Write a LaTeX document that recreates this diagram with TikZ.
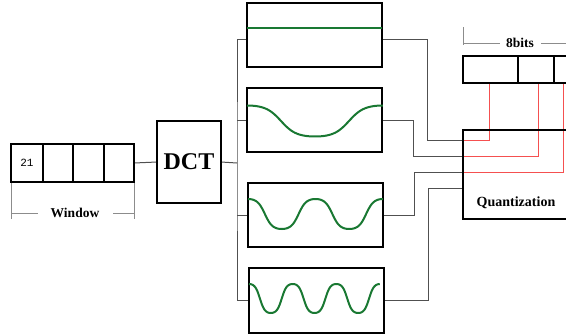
\documentclass[tikz,border=0pt]{standalone}
\usepackage{fontspec}
\setmainfont{Liberation Serif}
\setmonofont{Liberation Mono}
\usetikzlibrary{backgrounds}
\definecolor{wavegreen}{RGB}{25,120,50}
\definecolor{bitred}{RGB}{245,80,80}
\definecolor{conngray}{RGB}{80,80,80}
\definecolor{dimgray}{RGB}{140,140,140}
\tikzset{
  box/.style={draw=black, line width=2pt, inner sep=0pt, outer sep=0pt},
  conn/.style={draw=conngray, line width=1pt},
  redline/.style={draw=bitred, line width=1pt},
  dimline/.style={draw=dimgray, line width=1pt},
  wave/.style={draw=wavegreen, line width=2pt},
  lbl/.style={font=\bfseries\fontsize{13.5}{14}\selectfont, inner sep=1pt}
}
\begin{document}
\begin{tikzpicture}[x=1pt, y=-1pt]
\useasboundingbox (0,0) rectangle (566,335);
% window cells
\node[box, minimum width=32pt, minimum height=38pt] (w1) at (27,163) {\ttfamily\fontsize{11}{12}\selectfont 21};
\node[box, minimum width=30pt, minimum height=38pt] (w2) at (58,163) {};
\node[box, minimum width=31pt, minimum height=38pt] (w3) at (88.5,163) {};
\node[box, minimum width=30pt, minimum height=38pt] (w4) at (119,163) {};
% DCT
\node[box, minimum width=64pt, minimum height=82pt, font=\bfseries\fontsize{24}{26}\selectfont] (dct) at (189,162) {DCT};
% signal boxes
\node[box, minimum width=135pt, minimum height=64pt] (s1) at (314.5,35) {};
\node[box, minimum width=135pt, minimum height=64pt] (s2) at (314.5,120) {};
\node[box, minimum width=135pt, minimum height=64pt] (s3) at (315.5,215) {};
\node[box, minimum width=135pt, minimum height=65pt] (s4) at (316.5,300.5) {};
% waves
\draw[wave] (s1.west |- 0,28) -- (s1.east |- 0,28);
\draw[wave] plot[domain=0:1, samples=100, smooth] ({247+136*\x}, {121-15.5*tanh(1.3*cos(360*\x))/tanh(1.3)});
\draw[wave] plot[domain=0:1, samples=120, smooth] ({248+135*\x}, {214-15*tanh(1.3*cos(720*\x))/tanh(1.3)});
\draw[wave] plot[domain=0:1, samples=150, smooth] ({249+131*\x}, {298.5-14.5*tanh(1.3*cos(1080*\x))/tanh(1.3)});
% quantization
\node[box, minimum width=110pt, minimum height=89pt, anchor=north west] (q) at (463,130) {};
\node[font=\bfseries\fontsize{14}{15}\selectfont, inner sep=0pt] (qt) at (516,203) {Quantization};
% register
\node[box, minimum width=55pt, minimum height=27pt] (r1) at (490.5,69.5) {};
\node[box, minimum width=36pt, minimum height=27pt] (r2) at (536,69.5) {};
\node[box, minimum width=18pt, minimum height=27pt] (r3) at (563,69.5) {};
% coordinates on quantization input
\coordinate (qa) at (463,140);
\coordinate (qb) at (463,156);
\coordinate (qc) at (463,172);
\coordinate (qd) at (463,188);
\coordinate (bus) at (237,163);
% labels
\node[lbl] (win) at (75,213) {Window};
\node[lbl] (bits) at (520,43) {8bits};
\begin{scope}[on background layer]
  \draw[conn] (w4.east) -- (dct.west);
  \draw[conn] (dct.east) -- (bus);
  \draw[conn] ([yshift=-4pt]s1.west) -| (bus) |- (s4.west);
  \draw[conn] (bus |- s2.west) -- (s2.west);
  \draw[conn] (bus |- s3.west) -- (s3.west);
  \draw[conn] ([yshift=-4pt]s1.east) -- ++(45,0) |- (qa);
  \draw[conn] (s2.east) -- ++(31,0) |- (qb);
  \draw[conn] (s3.east) -- ++(31,0) |- (qc);
  \draw[conn] (s4.east) -- ++(44,0) |- (qd);
  \draw[redline] ([xshift=-1.5pt]r1.south) |- (qa);
  \draw[redline] ([xshift=2pt]r2.south) |- (qb);
  \draw[redline] (r3.south) |- (qc);
  % dimension lines
  \draw[dimline] (w1.south west) -- ++(0,37);
  \draw[dimline] (w4.south east) -- ++(0,37);
  \draw[dimline] (w1.south west |- win.west) -- ++(27,0);
  \draw[dimline] (w4.south east |- win.east) -- ++(-21,0);
  \draw[dimline] (r1.north west |- 0,27) -- (r1.north west |- 0,45);
  \draw[dimline] (r1.north west |- bits.west) -- ++(37,0);
  \draw[dimline] (bits.east) ++(6,0) -- (575,43);
\end{scope}
\end{tikzpicture}
\end{document}
